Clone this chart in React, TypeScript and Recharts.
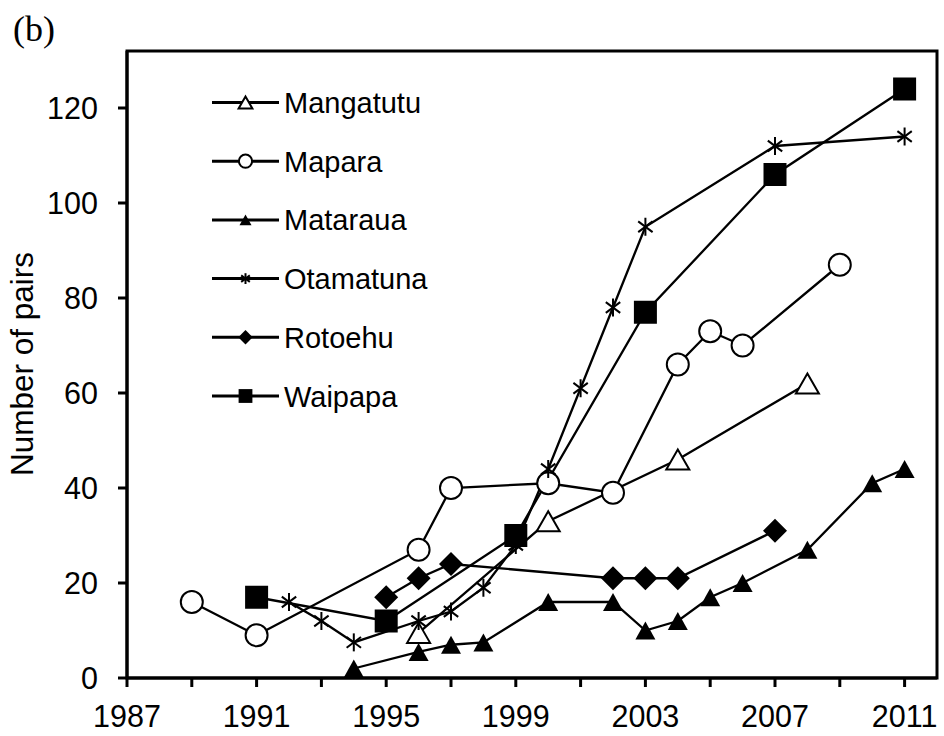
import React from "react";
import {
  LineChart,
  Line,
  XAxis,
  YAxis,
  ReferenceArea,
  Label,
} from "recharts";

// years and pair counts
const mangatutuYears = [1996, 2000, 2004, 2008];
const mangatutuPairs = [9.5, 33, 46, 62];

const maparaYears = [1989, 1991, 1996, 1997, 2000, 2002, 2004, 2005, 2006, 2009];
const maparaPairs = [16, 9, 27, 40, 41, 39, 66, 73, 70, 87];

const matarauaYears = [1994, 1996, 1997, 1998, 2000, 2002, 2003, 2004, 2005, 2006, 2008, 2010, 2011];
const matarauaPairs = [2, 5.5, 7, 7.5, 16, 16, 10, 12, 17, 20, 27, 41, 44];

const otamatunaYears = [1992, 1993, 1994, 1996, 1997, 1998, 1999, 2000, 2001, 2002, 2003, 2007, 2011];
const otamatunaPairs = [16, 12, 7.5, 12, 14, 19, 28, 44, 61, 78, 95, 112, 114];

const rotoehuYears = [1995, 1996, 1997, 2002, 2003, 2004, 2007];
const rotoehuPairs = [17, 21, 24, 21, 21, 21, 31];

const waipapaYears = [1991, 1995, 1999, 2003, 2007, 2011];
const waipapaPairs = [17, 12, 30, 77, 106, 124];

const xTicks = [1987, 1989, 1991, 1993, 1995, 1997, 1999, 2001, 2003, 2005, 2007, 2009, 2011];
const yTicks = [0, 20, 40, 60, 80, 100, 120];

type Shape = "openTriangle" | "openCircle" | "triangle" | "star" | "diamond" | "square";

const zip = (years: number[], pairs: number[]) =>
  years.map((year, i) => ({ year, pairs: pairs[i] }));

const series: { name: string; shape: Shape; data: { year: number; pairs: number }[] }[] = [
  { name: "Mangatutu", shape: "openTriangle", data: zip(mangatutuYears, mangatutuPairs) },
  { name: "Mapara", shape: "openCircle", data: zip(maparaYears, maparaPairs) },
  { name: "Mataraua", shape: "triangle", data: zip(matarauaYears, matarauaPairs) },
  { name: "Otamatuna", shape: "star", data: zip(otamatunaYears, otamatunaPairs) },
  { name: "Rotoehu", shape: "diamond", data: zip(rotoehuYears, rotoehuPairs) },
  { name: "Waipapa", shape: "square", data: zip(waipapaYears, waipapaPairs) },
];

const FONT = "'Liberation Sans', Arial, sans-serif";

function Marker({ shape, cx, cy, s = 1 }: { shape: Shape; cx: number; cy: number; s?: number }) {
  if (shape === "openTriangle") {
    const w = 11.5 * s, h = 10 * s;
    return (
      <polygon
        points={`${cx},${cy - h} ${cx + w},${cy + h} ${cx - w},${cy + h}`}
        fill="#fff"
        stroke="#000"
        strokeWidth={2}
      />
    );
  }
  if (shape === "openCircle") {
    return <circle cx={cx} cy={cy} r={11 * s} fill="#fff" stroke="#000" strokeWidth={2} />;
  }
  if (shape === "triangle") {
    const w = 10 * s, h = 9 * s;
    return <polygon points={`${cx},${cy - h} ${cx + w},${cy + h} ${cx - w},${cy + h}`} fill="#000" />;
  }
  if (shape === "star") {
    const a = 9 * s, d = a * 0.8;
    return (
      <g stroke="#000" strokeWidth={2}>
        <line x1={cx} y1={cy - a} x2={cx} y2={cy + a} />
        <line x1={cx - d} y1={cy - d * 0.75} x2={cx + d} y2={cy + d * 0.75} />
        <line x1={cx - d} y1={cy + d * 0.75} x2={cx + d} y2={cy - d * 0.75} />
      </g>
    );
  }
  if (shape === "diamond") {
    const r = 12 * s;
    return <polygon points={`${cx},${cy - r} ${cx + r},${cy} ${cx},${cy + r} ${cx - r},${cy}`} fill="#000" />;
  }
  const h = 11.5 * s;
  return <rect x={cx - h} y={cy - h} width={h * 2} height={h * 2} fill="#000" />;
}

const dotFor = (shape: Shape) => (props: any) => (
  <Marker key={`${shape}-${props.index}`} shape={shape} cx={props.cx} cy={props.cy} />
);

function Overlay() {
  return (
    <svg
      width={944}
      height={736}
      style={{ position: "absolute", left: 0, top: 0, pointerEvents: "none" }}
    >
      <text x={13} y={41} fontFamily="'Liberation Serif', 'Times New Roman', serif" fontSize={36} fill="#000">
        (b)
      </text>
      {series.map((s, i) => {
        const y = 102.5 + i * 58.7;
        return (
          <g key={s.name}>
            <line x1={212} y1={y} x2={279} y2={y} stroke="#000" strokeWidth={3} />
            <Marker shape={s.shape} cx={245.5} cy={y} s={0.6} />
            <text x={284} y={y + 10.5} fontFamily={FONT} fontSize={29} fill="#000">
              {s.name}
            </text>
          </g>
        );
      })}
    </svg>
  );
}

export default function App() {
  return (
    <div style={{ position: "absolute", left: 0, top: 0, width: 944, height: 736, background: "#fff" }}>
      <LineChart width={944} height={736} margin={{ top: 51, right: 7, bottom: 0, left: 0 }}>
        <ReferenceArea
          x1={1987}
          x2={2012}
          y1={0}
          y2={132}
          fill="none"
          stroke="#000"
          strokeWidth={3}
          ifOverflow="visible"
        />
        <XAxis
          type="number"
          dataKey="year"
          domain={[1987, 2012]}
          ticks={xTicks}
          interval={0}
          allowDataOverflow
          height={58}
          tickSize={9}
          tickMargin={18}
          tickFormatter={(v: number) => ((v - 1987) % 4 === 0 ? String(v) : "")}
          axisLine={{ stroke: "#000", strokeWidth: 3 }}
          tickLine={{ stroke: "#000", strokeWidth: 3 }}
          tick={{ fill: "#000", fontSize: 30.5, fontFamily: FONT }}
        />
        <YAxis
          type="number"
          domain={[0, 132]}
          ticks={yTicks}
          interval={0}
          allowDataOverflow
          width={127}
          tickSize={9}
          tickMargin={20}
          axisLine={{ stroke: "#000", strokeWidth: 3 }}
          tickLine={{ stroke: "#000", strokeWidth: 3 }}
          tick={{ fill: "#000", fontSize: 30.5, fontFamily: FONT }}
        >
          <Label
            content={() => (
              <text
                x={33}
                y={364}
                transform="rotate(-90 33 364)"
                textAnchor="middle"
                fontFamily={FONT}
                fontSize={31.5}
                fill="#000"
              >
                Number of pairs
              </text>
            )}
          />
        </YAxis>
        {series.map((s) => (
          <Line
            key={s.name}
            data={s.data}
            dataKey="pairs"
            name={s.name}
            type="linear"
            stroke="#000"
            strokeWidth={2.3}
            dot={dotFor(s.shape)}
            activeDot={false}
            isAnimationActive={false}
          />
        ))}
      </LineChart>
      <Overlay />
    </div>
  );
}
